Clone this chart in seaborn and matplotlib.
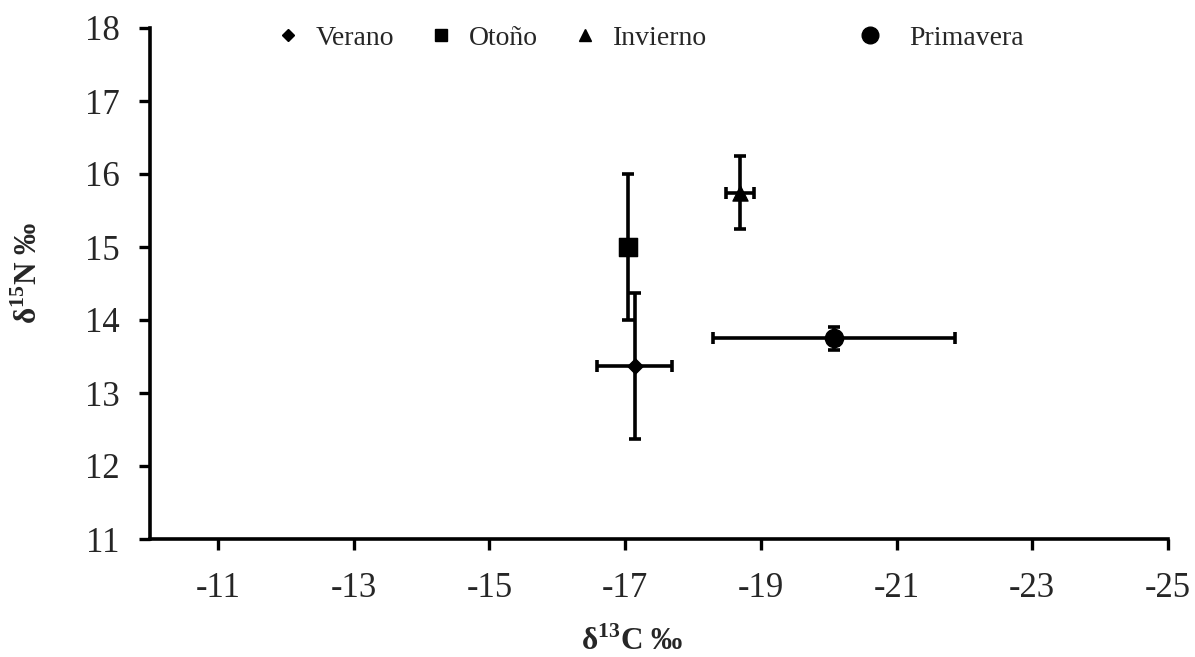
import matplotlib
matplotlib.use("Agg")
import matplotlib.pyplot as plt
from matplotlib.lines import Line2D
import seaborn as sns
import pandas as pd

# datos por estación (δ13C, δ15N y desviaciones)
estaciones = ["Verano", "Otoño", "Invierno", "Primavera"]
d13c = [-17.14, -17.05, -18.69, -20.08]
d15n = [13.37, 15.0, 15.74, 13.75]
d13c_err = [0.55, 0.08, 0.21, 1.78]
d15n_err = [1.0, 1.0, 0.5, 0.16]
marcadores = {"Verano": "D", "Otoño": "s", "Invierno": "^", "Primavera": "o"}
tamanos = {"Verano": 65, "Otoño": 180, "Invierno": 120, "Primavera": 170}
tam_leyenda = {"Verano": 6.5, "Otoño": 9, "Invierno": 9, "Primavera": 12}

x_ticks = [-11, -13, -15, -17, -19, -21, -23, -25]
y_ticks = [11, 12, 13, 14, 15, 16, 17, 18]

df = pd.DataFrame({"estacion": estaciones, "d13c": d13c, "d15n": d15n,
                   "ex": d13c_err, "ey": d15n_err})

sns.set_style("white")
plt.rcParams["font.family"] = ["Liberation Serif", "DejaVu Serif"]
plt.rcParams["mathtext.fontset"] = "custom"
plt.rcParams["mathtext.rm"] = "Liberation Serif"
plt.rcParams["mathtext.bf"] = "Liberation Serif:bold"

fig = plt.figure(figsize=(11.95, 6.57), dpi=100)
ax = fig.add_axes([150 / 1195, 1 - 539 / 657, 1018 / 1195, 511 / 657])

# barras de error primero, luego los marcadores encima
for _, r in df.iterrows():
    ax.errorbar(r["d13c"], r["d15n"], xerr=r["ex"], yerr=r["ey"], fmt="none",
                ecolor="black", elinewidth=2.6, capsize=4.5, capthick=2.6, zorder=2)

for est in estaciones:
    sub = df[df["estacion"] == est]
    sns.scatterplot(data=sub, x="d13c", y="d15n", marker=marcadores[est],
                    s=tamanos[est], color="black", edgecolor="black",
                    legend=False, ax=ax, zorder=3)

ax.set_xlim(-10, -25)
ax.set_ylim(11, 18)
ax.set_xticks(x_ticks)
ax.set_yticks(y_ticks)
ax.set_xticklabels([str(v) for v in x_ticks])
ax.tick_params(axis="both", which="major", direction="out", length=8, width=2.4,
               color="black", labelsize=25, bottom=True, left=True)
ax.tick_params(axis="x", pad=16)
ax.tick_params(axis="y", pad=14)

for s in ["top", "right"]:
    ax.spines[s].set_visible(False)
for s in ["left", "bottom"]:
    ax.spines[s].set_color("black")
    ax.spines[s].set_linewidth(2.6)

ax.set_xlabel(r"δ$^{\mathbf{13}}$C ‰", fontsize=22.5, fontweight="bold")
ax.set_ylabel(r"δ$^{\mathbf{15}}$N ‰", fontsize=22.5, fontweight="bold")
ax.xaxis.set_label_coords(0.474, -0.172)
ax.yaxis.set_label_coords(-0.104, 0.52)

# leyenda: Excel deja un hueco grande antes de "Primavera"
handles = [Line2D([], [], linestyle="none", marker=marcadores[e], color="black",
                  markersize=tam_leyenda[e]) for e in estaciones]
ley_y = (539 - 38) / 511
leg1 = ax.legend(handles[:3], estaciones[:3], loc="center left",
                 bbox_to_anchor=((274 - 150) / 1018, ley_y), ncol=3, frameon=False,
                 fontsize=20, handlelength=1.0, handletextpad=0.5,
                 columnspacing=1.2, borderpad=0, borderaxespad=0)
ax.add_artist(leg1)
ax.legend(handles[3:], estaciones[3:], loc="center left",
          bbox_to_anchor=((856 - 150) / 1018, ley_y), frameon=False,
          fontsize=20, handlelength=1.0, handletextpad=0.9,
          borderpad=0, borderaxespad=0)

fig.savefig("out.png", dpi=100, facecolor="white")
